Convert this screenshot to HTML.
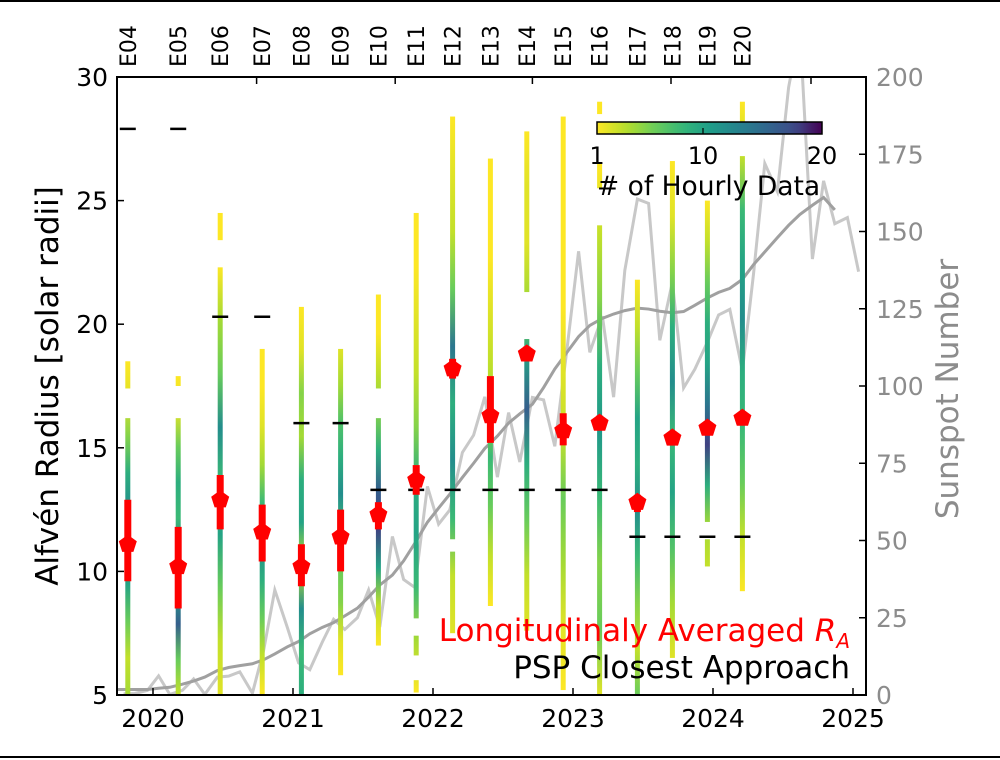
<!DOCTYPE html>
<html><head><meta charset="utf-8"><style>
html,body{margin:0;padding:0;background:#fff;}
svg{display:block;font-family:"DejaVu Sans","Liberation Sans",sans-serif;}
</style></head><body>
<svg id="chart" width="1000" height="760" viewBox="0 0 1000 760" xmlns="http://www.w3.org/2000/svg">
<defs id="defs"></defs>
<line x1="0" y1="1" x2="1000" y2="1" stroke="#000" stroke-width="2"/>
<line x1="0" y1="757" x2="1000" y2="757" stroke="#000" stroke-width="2"/>
<g id="sunspots"></g>
<g id="bars"></g>
<g id="ca"></g>
<g id="meds"></g>
<rect x="117" y="77" width="749" height="618" fill="none" stroke="#000" stroke-width="2"/>
<g id="axes"></g>
<g>
<rect id="cbar" x="597" y="122" width="225" height="12" stroke="#000" stroke-width="1.5"/>
<line x1="703" y1="128" x2="703" y2="134" stroke="#000" stroke-width="1.2"/>
<text x="597" y="164" font-size="24" text-anchor="middle">1</text>
<text x="703" y="164" font-size="24" text-anchor="middle">10</text>
<text x="822" y="164" font-size="24" text-anchor="middle">20</text>
<text x="597" y="195" font-size="26.5"># of Hourly Data</text>
</g>
<text x="850" y="641" font-size="31" fill="#ff0000" text-anchor="end">Longitudinaly Averaged <tspan font-style="italic">R</tspan><tspan font-style="italic" font-size="20" dy="7">A</tspan></text>
<text x="850" y="678" font-size="31" fill="#000" text-anchor="end">PSP Closest Approach</text>
<text transform="translate(58,386) rotate(-90)" font-size="31" text-anchor="middle">Alfvén Radius [solar radii]</text>
<text transform="translate(958,389) rotate(-90)" font-size="31" fill="#8c8c8c" text-anchor="middle">Sunspot Number</text>
</svg>
<script>
const encNames=["E04","E05","E06","E07","E08","E09","E10","E11","E12","E13","E14","E15","E16","E17","E18","E19","E20"];
const encDates=[2019.82,2020.18,2020.48,2020.78,2021.06,2021.34,2021.61,2021.88,2022.14,2022.41,2022.67,2022.93,2023.19,2023.46,2023.71,2023.96,2024.21];
const medianRA=[11.1,10.2,12.9,11.6,10.2,11.4,12.3,13.7,18.2,16.3,18.8,15.7,16.0,12.8,15.4,15.8,16.2];
const errLow=[9.6,8.5,11.7,10.4,9.4,10.0,11.7,13.1,17.8,15.2,18.5,15.1,15.8,12.4,15.2,15.6,16.0];
const errHigh=[12.9,11.8,13.9,12.7,11.1,12.5,12.8,14.3,18.6,17.9,19.1,16.4,16.3,13.1,15.6,16.0,16.4];
const closestApproach=[27.9,27.9,20.3,20.3,16.0,16.0,13.3,13.3,13.3,13.3,13.3,13.3,13.3,11.4,11.4,11.4,11.4];
const barSegments=[
[[18.5,17.4],[16.2,5]],[[17.9,17.5],[16.2,5]],[[24.5,23.4],[22.3,5]],[[19.0,5]],[[20.7,5]],[[19.0,5.8]],
[[21.2,17.4],[16.2,7]],[[24.5,8.1],[7.4,6.6],[5.6,5.1]],[[28.4,11.3],[10.8,7.5]],[[26.7,8.6]],[[27.8,21.3],[19.4,7.6]],
[[28.4,5.2]],[[29,28.5],[26.5,25.5],[24,5]],[[21.8,5]],[[26.6,6.5]],[[25,12],[11.3,10.2]],[[29,28],[26.8,9.2]]];
const barCounts=[
[1,2,5,9,12,8,10,6,3,4],[1,2,6,9,8,13,10,16,6,3],[1,1,4,6,12,8,10,6,3,2],[1,1,2,4,8,12,9,6,3,1],[1,2,5,4,9,10,3,12,8,9],[2,4,7,9,12,8,6,5,2,1],
[1,1,3,5,9,16,18,10,3,1],[1,1,2,3,5,9,10,8,4,1],[1,2,3,6,14,9,12,8,3,2],[1,1,1,2,3,4,8,6,3,1],[1,2,2,4,10,16,9,6,3,2],
[1,1,1,1,2,3,6,4,2,1],[1,1,3,5,9,11,8,5,6,2],[1,3,6,10,9,12,8,5,3,6],[1,2,5,9,12,8,10,7,4,2],[1,3,6,9,10,14,18,9,4,3],[1,3,8,10,12,9,8,6,3,1]];
const ssnYears=[2019.79,2019.87,2019.96,2020.04,2020.12,2020.21,2020.29,2020.37,2020.46,2020.54,2020.62,2020.71,2020.79,2020.87,2020.96,2021.04,2021.12,2021.21,2021.29,2021.37,2021.46,2021.54,2021.62,2021.71,2021.79,2021.87,2021.96,2022.04,2022.12,2022.21,2022.29,2022.37,2022.46,2022.54,2022.62,2022.71,2022.79,2022.87,2022.96,2023.04,2023.12,2023.21,2023.29,2023.37,2023.46,2023.54,2023.62,2023.71,2023.79,2023.87,2023.96,2024.04,2024.12,2024.21,2024.29,2024.37,2024.46,2024.54,2024.62,2024.71,2024.79,2024.87,2024.96,2025.04];
const ssnMonthly=[0.4,0.5,1.5,6.2,0.2,1.5,5.2,0.2,5.8,6.1,7.5,0.6,14.4,34.0,21.8,10.4,8.2,17.2,24.5,21.2,25.0,34.0,22.0,51.3,37.4,34.8,67.5,55.3,59.9,78.5,84.1,96.5,70.5,91.4,75.4,96.3,95.5,80.5,113.1,143.6,110.9,122.6,96.4,137.4,160.5,159.1,114.8,133.6,99.4,105.4,114.2,123.0,124.8,104.9,136.5,172.0,162.9,196.6,216.0,141.1,166.4,152.5,154.5,137.0];
const smYears=[2019.74,2019.87,2019.96,2020.04,2020.12,2020.21,2020.29,2020.37,2020.46,2020.54,2020.62,2020.71,2020.79,2020.87,2020.96,2021.04,2021.12,2021.21,2021.29,2021.37,2021.46,2021.54,2021.62,2021.71,2021.79,2021.87,2021.96,2022.04,2022.12,2022.21,2022.29,2022.37,2022.46,2022.54,2022.62,2022.71,2022.79,2022.87,2022.96,2023.04,2023.12,2023.21,2023.29,2023.37,2023.46,2023.54,2023.62,2023.71,2023.79,2023.87,2023.96,2024.04,2024.12,2024.21,2024.29,2024.37,2024.46,2024.54,2024.62,2024.71,2024.79,2024.87];
const ssnSmoothed=[1.8,1.8,1.8,2.2,2.5,3.5,4.5,5.8,7.9,8.9,9.5,10.1,11.4,13.3,15.6,17.3,19.8,21.9,23.4,25.6,28.1,31.7,35.6,38.8,43.4,49.1,55.9,60.5,65.0,70.4,75.0,79.8,83.8,88.0,91.0,94.1,99.5,105.5,111.1,116.0,119.6,121.9,123.3,124.4,125.2,124.9,124.2,123.7,124.1,126.1,128.5,130.3,131.6,134.5,139.3,143.4,148.0,152.0,155.5,158.5,161.0,157.0];
const leftTicks=[5,10,15,20,25,30];
const rightTicks=[0,25,50,75,100,125,150,175,200];
const yearTicks=[2020,2021,2022,2023,2024,2025];
const topTickYears=[2020.74,2021.73,2022.71,2023.70,2024.70];

const NS="http://www.w3.org/2000/svg";
const X=y=>153+(y-2020)*140;
const YL=r=>695-(r-5)*(618/25);
const YR=s=>695-s*(618/200);
const vir=[[0,[253,231,37]],[0.13,[181,222,43]],[0.25,[110,206,88]],[0.38,[53,183,121]],[0.5,[31,158,137]],[0.63,[38,130,142]],[0.75,[49,104,142]],[0.88,[62,74,137]],[1,[68,1,84]]];
function cmap(c){let t=Math.max(0,Math.min(1,(c-1)/19));for(let i=1;i<vir.length;i++){if(t<=vir[i][0]){const a=vir[i-1],b=vir[i];const f=(t-a[0])/(b[0]-a[0]);const col=a[1].map((v,k)=>Math.round(v+(b[1][k]-v)*f));return `rgb(${col.join(',')})`;}}return 'rgb(68,1,84)';}
function el(tag,attrs,parent){const e=document.createElementNS(NS,tag);for(const k in attrs)e.setAttribute(k,attrs[k]);parent.appendChild(e);return e;}
const defs=document.getElementById('defs');
const cg=el('linearGradient',{id:'cbg',x1:'0',x2:'1',y1:'0',y2:'0'},defs);
for(let i=0;i<=20;i++){el('stop',{offset:(i/20),'stop-color':cmap(1+i*19/20)},cg);}
document.getElementById('cbar').setAttribute('fill','url(#cbg)');

const ss=document.getElementById('sunspots');
const clip=el('clipPath',{id:'pclip'},defs);el('rect',{x:117,y:77,width:749,height:618},clip);
ss.setAttribute('clip-path','url(#pclip)');
const pm=el('polyline',{points:ssnYears.map((y,i)=>X(y)+','+YR(ssnMonthly[i])).join(' '),fill:'none',stroke:'#c8c8c8','stroke-width':3},ss);


const psm=el('polyline',{points:smYears.map((y,i)=>X(y)+','+YR(ssnSmoothed[i])).join(' '),fill:'none',stroke:'#a0a0a0','stroke-width':3},ss);



const bars=document.getElementById('bars');
encNames.forEach((n,i)=>{
  const segs=barSegments[i];const top=segs[0][0],bot=segs[segs.length-1][1];
  const yt=YL(top),yb=YL(bot);
  const g=el('linearGradient',{id:'bg'+i,gradientUnits:'userSpaceOnUse',x1:0,x2:0,y1:yt,y2:yb},defs);
  const c=barCounts[i];c.forEach((v,k)=>el('stop',{offset:k/(c.length-1),'stop-color':cmap(v)},g));
  segs.forEach((s,k)=>{
    const r=el('rect',{x:X(encDates[i])-2.5,y:YL(s[0]),width:5,height:YL(s[1])-YL(s[0]),fill:'url(#bg'+i+')'},bars);
    
    
  });
});
const ca=document.getElementById('ca');
closestApproach.forEach((v,i)=>{
  const l=el('line',{x1:X(encDates[i])-8,x2:X(encDates[i])+8,y1:YL(v),y2:YL(v),stroke:'#000','stroke-width':2.5},ca);
  
  
});
const meds=document.getElementById('meds');
medianRA.forEach((v,i)=>{
  const x=X(encDates[i]);
  const e=el('line',{x1:x,x2:x,y1:YL(errHigh[i]),y2:YL(errLow[i]),stroke:'#ff0000','stroke-width':7},meds);
  
  
  const y=YL(v),R=9.5;let pts=[];
  for(let k=0;k<5;k++){const a=-Math.PI/2+k*2*Math.PI/5;pts.push((x+R*Math.cos(a)).toFixed(1)+','+(y+R*Math.sin(a)).toFixed(1));}
  const p=el('polygon',{points:pts.join(' '),fill:'#ff0000'},meds);
  
  
});
const ax=document.getElementById('axes');
leftTicks.forEach(t=>{
  el('line',{x1:117,x2:124,y1:YL(t),y2:YL(t),stroke:'#000','stroke-width':1.5},ax);
  const tx=el('text',{x:108,y:YL(t)+9,'font-size':25,'text-anchor':'end'},ax);tx.textContent=t;
  
  
});
rightTicks.forEach(t=>{
  el('line',{x1:859,x2:866,y1:YR(t),y2:YR(t),stroke:'#000','stroke-width':1.5},ax);
  const tx=el('text',{x:876,y:YR(t)+9,'font-size':25,fill:'#8c8c8c'},ax);tx.textContent=t;
  
  
});
yearTicks.forEach(t=>{
  el('line',{x1:X(t),x2:X(t),y1:688,y2:695,stroke:'#000','stroke-width':1.5},ax);
  const tx=el('text',{x:X(t),y:727,'font-size':25,'text-anchor':'middle'},ax);tx.textContent=t;
  
  
});
topTickYears.forEach(t=>{el('line',{x1:X(t),x2:X(t),y1:77,y2:84,stroke:'#000','stroke-width':1.5},ax);});
encNames.forEach((n,i)=>{
  const x=X(encDates[i]);
  const tx=el('text',{transform:`translate(${x+8},67) rotate(-90)`,'font-size':22},ax);tx.textContent=n;
  
  
});
</script>
</body></html>
